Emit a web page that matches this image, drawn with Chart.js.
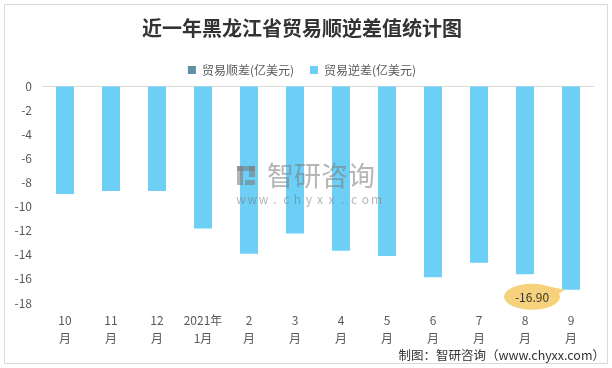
<!DOCTYPE html>
<html>
<head>
<meta charset="utf-8">
<script src="https://cdn.jsdelivr.net/npm/chart.js@4"></script>
<style>
  html, body { margin: 0; padding: 0; background: #fff; }
  #wrap { width: 612px; height: 368px; position: relative; }
</style>
</head>
<body>
<div id="wrap"><canvas id="tradeChart"></canvas></div>
<script>
const months = [["10", "月"], ["11", "月"], ["12", "月"], ["2021年", "1月"], ["2", "月"], ["3", "月"],
                ["4", "月"], ["5", "月"], ["6", "月"], ["7", "月"], ["8", "月"], ["9", "月"]];
const surplus = [null, null, null, null, null, null, null, null, null, null, null, null];
const deficit = [-8.95, -8.72, -8.72, -11.83, -13.91, -12.23, -13.66, -14.10, -15.87, -14.67, -15.62, -16.90];
const yTicks = [0, -2, -4, -6, -8, -10, -12, -14, -16, -18];

const FONT = "'Noto Sans CJK SC', 'Noto Sans', sans-serif";

// frame, watermark, callout and footer
const decor = {
    id: 'decor',
    beforeDraw(chart) {
        const ctx = chart.ctx;
        ctx.save();
        ctx.fillStyle = '#fff';
        ctx.fillRect(0, 0, chart.width, chart.height);
        ctx.strokeStyle = '#d9d9d9';
        ctx.lineWidth = 1;
        ctx.strokeRect(4.5, 4.5, 603, 359);
        ctx.restore();
    },
    afterDraw(chart) {
        const ctx = chart.ctx;
        ctx.save();

        // watermark
        ctx.fillStyle = 'rgba(120,120,120,0.55)';
        ctx.fillRect(237, 166, 6, 19);
        ctx.fillRect(237, 166, 18, 5);
        ctx.fillRect(249, 166, 6, 11);
        ctx.fillRect(245, 180, 10, 5);
        ctx.font = "27px " + FONT;
        ctx.textAlign = 'left';
        ctx.textBaseline = 'middle';
        ctx.fillText('智研咨询', 267, 176);
        ctx.font = "12px " + FONT;
        ctx.textAlign = 'center';
        'www.chyxx.com'.split('').forEach((c, i) => ctx.fillText(c, 241 + i * 11.3, 199));

        // callout on the last bar
        const meta = chart.getDatasetMeta(1);
        const last = meta.data[meta.data.length - 1];
        const cx = last.x - 39, cy = last.y + 7;
        ctx.fillStyle = '#f7d27c';
        ctx.beginPath();
        ctx.moveTo(cx + 18, cy - 10);
        ctx.lineTo(last.x - 6, last.y);
        ctx.lineTo(cx + 26, cy - 3);
        ctx.closePath();
        ctx.fill();
        ctx.beginPath();
        ctx.ellipse(cx, cy, 28, 13, 0, 0, Math.PI * 2);
        ctx.fill();
        ctx.fillStyle = '#333';
        ctx.font = "12px " + FONT;
        ctx.textAlign = 'center';
        ctx.textBaseline = 'middle';
        ctx.fillText(deficit[deficit.length - 1].toFixed(2), cx, cy + 1);

        // footer
        ctx.fillStyle = '#333';
        ctx.font = "12.5px " + FONT;
        ctx.textAlign = 'right';
        ctx.fillText('制图：智研咨询（www.chyxx.com）', 605, 355);
        ctx.restore();
    }
};

new Chart(document.getElementById('tradeChart'), {
    type: 'bar',
    data: {
        labels: months,
        datasets: [
            { label: '贸易顺差(亿美元)', data: surplus, backgroundColor: '#5e8fa5' },
            { label: '贸易逆差(亿美元)', data: deficit, backgroundColor: '#6dcff6' }
        ]
    },
    options: {
        responsive: true,
        maintainAspectRatio: false,
        animation: false,
        skipNull: true,
        categoryPercentage: 1,
        barPercentage: 0.39,
        layout: { padding: { top: 14, left: 10, right: 18, bottom: 21 } },
        scales: {
            x: {
                grid: { display: false },
                border: { display: false },
                ticks: { color: '#595959', font: { size: 12, family: FONT, lineHeight: 1.5 }, maxRotation: 0, autoSkip: false, padding: 0 }
            },
            y: {
                min: -18, max: 0,
                afterBuildTicks(scale) { scale.ticks = yTicks.map(v => ({ value: v })); },
                afterFit(scale) { scale.width = 32; },
                grid: { color: ctx => ctx.tick && ctx.tick.value === 0 ? '#d9d9d9' : 'rgba(0,0,0,0)', drawTicks: false },
                border: { display: false },
                ticks: { color: '#595959', font: { size: 12, family: FONT }, padding: 10 }
            }
        },
        plugins: {
            title: {
                display: true,
                text: '近一年黑龙江省贸易顺逆差值统计图',
                color: '#333',
                font: { size: 20, weight: 'bold', family: FONT },
                padding: { top: 2, bottom: 8 }
            },
            legend: {
                labels: { color: '#595959', boxWidth: 8, boxHeight: 8, font: { size: 12, family: FONT }, padding: 16 }
            },
            tooltip: { enabled: false }
        }
    },
    plugins: [decor]
});
</script>
</body>
</html>
